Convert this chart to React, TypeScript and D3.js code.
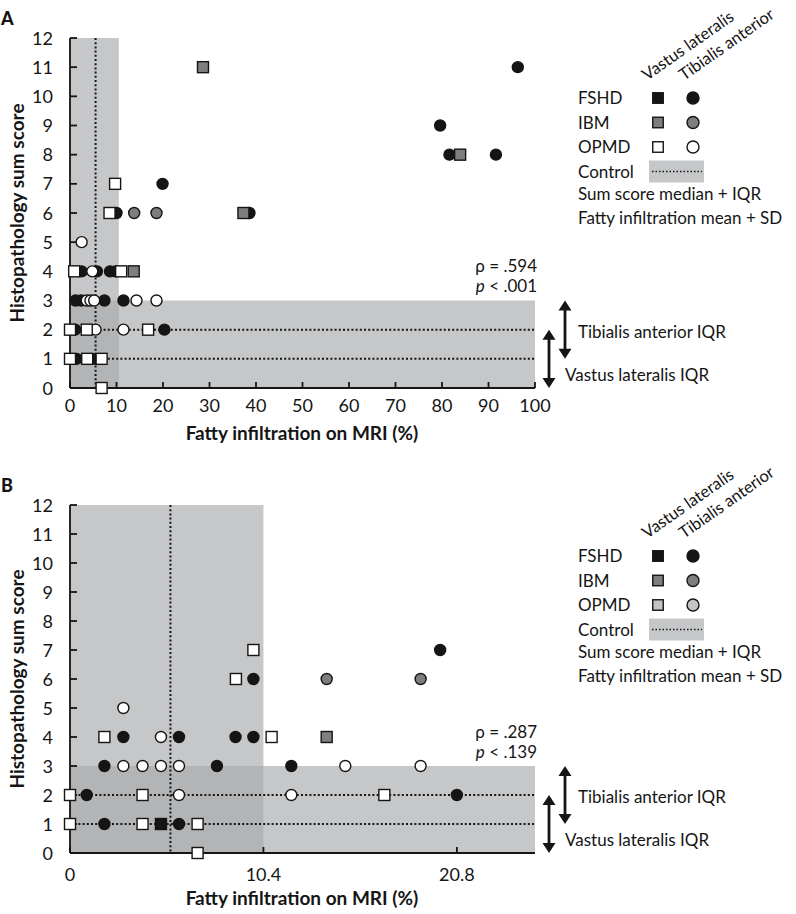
import * as d3 from "d3";

type Pt = [number, number];

// Panel A: [fatty infiltration %, sum score]
const fshdVL_A: Pt[] = [];
const fshdTA_A: Pt[] = [
  [19.9, 7], [10.0, 6], [38.6, 6], [2.5, 4], [5.8, 4], [8.6, 4], [9.8, 4],
  [1.2, 3], [2.4, 3], [7.4, 3], [11.5, 3], [1.1, 2], [20.3, 2], [1.4, 1], [5.5, 1],
  [96.3, 11], [79.6, 9], [81.6, 8], [91.6, 8],
];
const ibmVL_A: Pt[] = [[28.6, 11], [37.3, 6], [13.7, 4], [83.9, 8]];
const ibmTA_A: Pt[] = [[13.8, 6], [18.6, 6]];
const opmdVL_A: Pt[] = [
  [9.7, 7], [8.5, 6], [0.9, 4], [11.0, 4], [0, 2], [3.6, 2], [16.8, 2],
  [0, 1], [3.7, 1], [6.8, 1], [6.8, 0],
];
const opmdTA_A: Pt[] = [
  [2.5, 5], [4.8, 4], [3.6, 3], [4.4, 3], [5.2, 3], [14.3, 3], [18.6, 3], [5.5, 2], [11.5, 2],
];

// Panel B
const fshdVL_B: Pt[] = [[4.89, 1]];
const fshdTA_B: Pt[] = [
  [19.9, 7], [9.86, 6], [2.87, 4], [5.86, 4], [8.9, 4], [9.86, 4], [1.85, 3], [7.9, 3],
  [11.9, 3], [0.9, 2], [20.8, 2], [1.85, 1], [5.86, 1],
];
const ibmVL_B: Pt[] = [[13.8, 4]];
const ibmTA_B: Pt[] = [[13.8, 6], [18.85, 6]];
const opmdVL_B: Pt[] = [
  [9.86, 7], [8.92, 6], [1.85, 4], [10.84, 4], [0, 2], [3.9, 2], [16.9, 2],
  [0, 1], [3.9, 1], [6.86, 1], [6.86, 0],
];
const opmdTA_B: Pt[] = [
  [2.87, 5], [4.89, 4], [2.87, 3], [3.9, 3], [4.89, 3], [5.86, 3], [14.8, 3], [18.85, 3],
  [5.86, 2], [11.9, 2],
];

const yTicks = [0, 1, 2, 3, 4, 5, 6, 7, 8, 9, 10, 11, 12];
const xTicksA = [0, 10, 20, 30, 40, 50, 60, 70, 80, 90, 100];
const xTicksB = [0, 10.4, 20.8];

const groups = ["FSHD", "IBM", "OPMD"];
const legendNotes = ["Sum score median + IQR", "Fatty infiltration mean + SD"];

const BLACK = "#151515";
const GRAY = "#7e7e7e";
const LIGHT = "#c4c4c4";
const BAND = "#c6c7c9";
const OVERLAP = "#b3b4b6";
const FONT = "Lato, 'Open Sans', sans-serif";

type Series = { pts: Pt[]; shape: "sq" | "ci"; fill: string };

type PanelProps = {
  letter: string;
  top: number;
  bottom: number;
  xMax: number;
  xTicks: number[];
  tickGap: number;
  titleGap: number;
  bandX: number;
  meanX: number;
  series: Series[];
  rho: string;
  pval: string;
  legendTop: number;
  opmdLegendFill: string;
};

function Marker({ x, y, shape, fill, s = 11 }: { x: number; y: number; shape: string; fill: string; s?: number }) {
  if (shape === "sq")
    return <rect x={x - s / 2} y={y - s / 2} width={s} height={s} fill={fill} stroke={BLACK} strokeWidth={1.4} />;
  return <circle cx={x} cy={y} r={s / 2} fill={fill} stroke={BLACK} strokeWidth={1.4} />;
}

function Arrow({ x, y1, y2 }: { x: number; y1: number; y2: number }) {
  const h = 10, w = 6.5;
  return (
    <g fill={BLACK} stroke="none">
      <line x1={x} x2={x} y1={y1 + h - 1} y2={y2 - h + 1} stroke={BLACK} strokeWidth={2.8} />
      <path d={`M${x},${y1} L${x - w},${y1 + h} L${x + w},${y1 + h} Z`} />
      <path d={`M${x},${y2} L${x - w},${y2 - h} L${x + w},${y2 - h} Z`} />
    </g>
  );
}

function Panel(p: PanelProps) {
  const x = d3.scaleLinear().domain([0, p.xMax]).range([70, 535]);
  const y = d3.scaleLinear().domain([0, 12]).range([p.bottom, p.top]);
  const dots = { stroke: BLACK, strokeWidth: 2, strokeDasharray: "2 2.2" };
  const lt = p.legendTop;
  const legendFills = [BLACK, GRAY, p.opmdLegendFill];
  return (
    <g fontFamily={FONT}>
      <text x={1} y={p.top - 13} fontSize={18} fontWeight={900} fill={BLACK}>{p.letter}</text>

      {/* control bands */}
      <rect x={x(0)} y={y(12)} width={x(p.bandX) - x(0)} height={y(0) - y(12)} fill={BAND} />
      <rect x={x(0)} y={y(3)} width={x(p.xMax) - x(0)} height={y(0) - y(3)} fill={BAND} />
      <rect x={x(0)} y={y(3)} width={x(p.bandX) - x(0)} height={y(0) - y(3)} fill={OVERLAP} />
      <line x1={x(p.meanX)} x2={x(p.meanX)} y1={y(12)} y2={y(0)} {...dots} />
      <line x1={x(0)} x2={x(p.xMax)} y1={y(2)} y2={y(2)} {...dots} />
      <line x1={x(0)} x2={x(p.xMax)} y1={y(1)} y2={y(1)} {...dots} />

      {/* axes */}
      <g stroke={BLACK} strokeWidth={1.8}>
        <line x1={x(0)} x2={x(0)} y1={y(12)} y2={y(0)} />
        <line x1={x(0)} x2={x(p.xMax)} y1={y(0)} y2={y(0)} />
        {yTicks.map((t) => (
          <line key={t} x1={x(0)} x2={x(0) + 7} y1={y(t)} y2={y(t)} />
        ))}
        {p.xTicks.map((t) => (
          <line key={t} x1={x(t)} x2={x(t)} y1={y(0)} y2={y(0) - 6} />
        ))}
      </g>
      {yTicks.map((t) => (
        <text key={t} x={53} y={y(t) + 6.5} fontSize={18} textAnchor="end" fill={BLACK}>{t}</text>
      ))}
      {p.xTicks.map((t) => (
        <text key={t} x={x(t)} y={y(0) + p.tickGap} fontSize={18} textAnchor="middle" fill={BLACK}>{t}</text>
      ))}
      <text x={302} y={y(0) + p.titleGap} fontSize={19} fontWeight={700} textAnchor="middle" fill={BLACK}>
        Fatty infiltration on MRI (%)
      </text>
      <text
        transform={`translate(24,${(y(0) + y(12)) / 2}) rotate(-90)`}
        fontSize={19}
        fontWeight={700}
        textAnchor="middle"
        fill={BLACK}
      >
        Histopathology sum score
      </text>

      {/* points */}
      {p.series.map((s, i) =>
        s.pts.map((d, j) => (
          <Marker key={`${i}-${j}`} x={x(d[0])} y={y(d[1])} shape={s.shape} fill={s.fill} />
        ))
      )}

      {/* stats */}
      <text x={537} y={y(3) - 28.5} fontSize={17} textAnchor="end" fill={BLACK}>ρ = {p.rho}</text>
      <text x={537} y={y(3) - 8.5} fontSize={17} textAnchor="end" fill={BLACK}>
        <tspan fontStyle="italic">p</tspan> &lt; {p.pval}
      </text>

      {/* IQR arrows */}
      <Arrow x={565} y1={y(3)} y2={y(1)} />
      <Arrow x={549} y1={y(2)} y2={y(0)} />
      <text x={578} y={y(2) + 8} fontSize={17} fill={BLACK}>Tibialis anterior IQR</text>
      <text x={565} y={y(0.45) + 6} fontSize={17} fill={BLACK}>Vastus lateralis IQR</text>

      {/* legend */}
      <text transform={`translate(647,${lt - 17}) rotate(-35)`} fontSize={16.5} fill={BLACK}>Vastus lateralis</text>
      <text transform={`translate(684,${lt - 17}) rotate(-35)`} fontSize={16.5} fill={BLACK}>Tibialis anterior</text>
      {groups.map((g, i) => (
        <g key={g}>
          <text x={578} y={lt + i * 24.5 + 6} fontSize={17} fill={BLACK}>{g}</text>
          <Marker x={658} y={lt + i * 24.5} shape="sq" fill={legendFills[i]} s={10.5} />
          <Marker x={693} y={lt + i * 24.5} shape="ci" fill={legendFills[i]} s={12} />
        </g>
      ))}
      <text x={578} y={lt + 3 * 24.5 + 6} fontSize={17} fill={BLACK}>Control</text>
      <rect x={649} y={lt + 3 * 24.5 - 11} width={55} height={22} fill={BAND} />
      <line x1={652} x2={702} y1={lt + 3 * 24.5} y2={lt + 3 * 24.5} stroke={BLACK} strokeWidth={1.6} strokeDasharray="1.5 2" />
      {legendNotes.map((n, i) => (
        <text key={n} x={578} y={lt + (4 + i) * 24 + 6} fontSize={17} fill={BLACK}>{n}</text>
      ))}
    </g>
  );
}

export default function App() {
  const seriesA: Series[] = [
    { pts: fshdTA_A, shape: "ci", fill: BLACK },
    { pts: ibmTA_A, shape: "ci", fill: GRAY },
    { pts: opmdTA_A, shape: "ci", fill: "#fff" },
    { pts: fshdVL_A, shape: "sq", fill: BLACK },
    { pts: ibmVL_A, shape: "sq", fill: GRAY },
    { pts: opmdVL_A, shape: "sq", fill: "#fff" },
  ];
  const seriesB: Series[] = [
    { pts: fshdTA_B, shape: "ci", fill: BLACK },
    { pts: ibmTA_B, shape: "ci", fill: GRAY },
    { pts: opmdTA_B, shape: "ci", fill: "#fff" },
    { pts: fshdVL_B, shape: "sq", fill: BLACK },
    { pts: ibmVL_B, shape: "sq", fill: GRAY },
    { pts: opmdVL_B, shape: "sq", fill: "#fff" },
  ];
  return (
    <div style={{ position: "absolute", left: 0, top: 0, background: "#fff" }}>
      <svg width={796} height={914}>
        <rect width={796} height={914} fill="#fff" />
        <Panel
          letter="A" top={38} bottom={388} xMax={100} xTicks={xTicksA} tickGap={24} titleGap={52}
          bandX={10.5} meanX={5.5}
          series={seriesA} rho=".594" pval=".001" legendTop={98} opmdLegendFill="#fff"
        />
        <Panel
          letter="B" top={505} bottom={853} xMax={25} xTicks={xTicksB} tickGap={28} titleGap={52}
          bandX={10.4} meanX={5.4}
          series={seriesB} rho=".287" pval=".139" legendTop={556} opmdLegendFill={LIGHT}
        />
      </svg>
    </div>
  );
}
